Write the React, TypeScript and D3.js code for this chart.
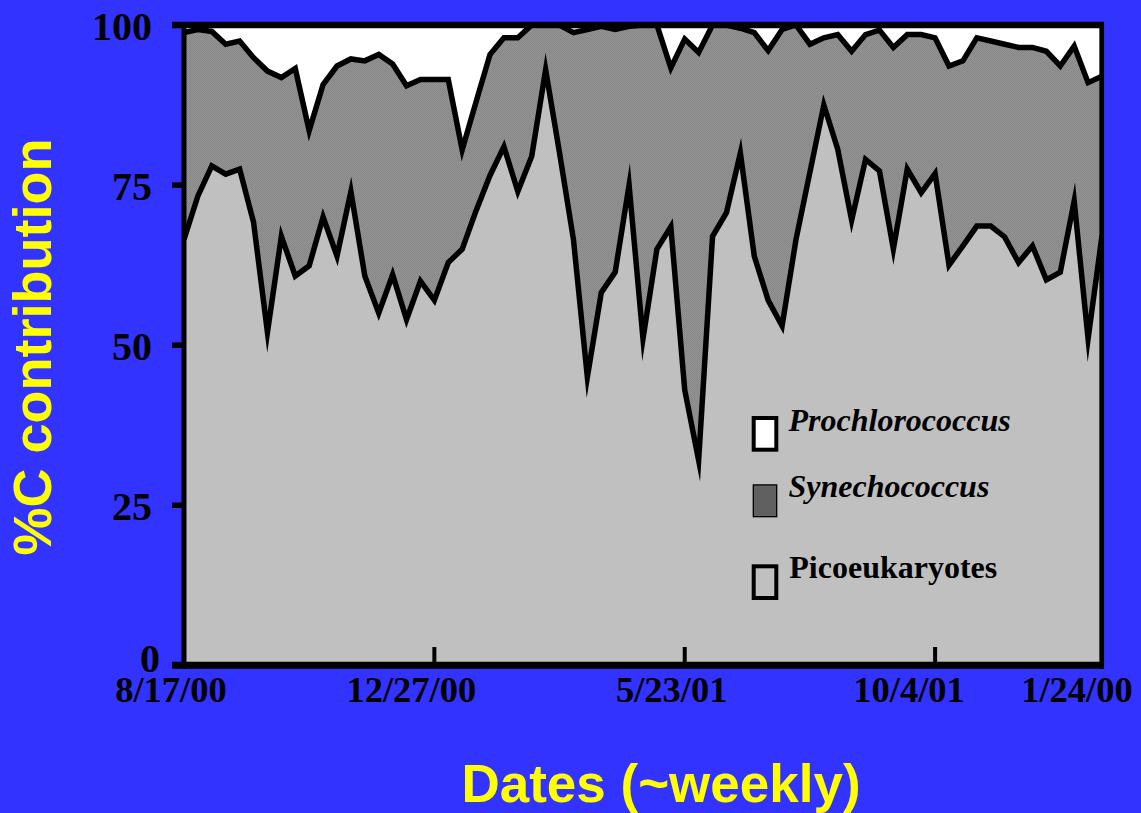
import React from 'react';
import * as d3 from 'd3';

// ~weekly samples, 8/17/00 onward
const dateLabels = ['8/17/00', '12/27/00', '5/23/01', '10/4/01', '1/24/00'];
const dateLabelIndex = [0, 18, 36, 54, 66];
const yTickValues = [0, 25, 50, 75, 100];
const seriesNames = ['Prochlorococcus', 'Synechococcus', 'Picoeukaryotes'];

const picoeukaryotes = [
  66.5, 73.3, 78.0, 76.7, 77.5, 69.2, 52.0, 67.0, 60.8, 62.4,
  70.0, 63.9, 74.0, 60.8, 55.0, 61.0, 54.0, 60.0, 57.0, 62.9,
  65.0, 71.0, 76.5, 81.0, 74.0, 79.5, 93.0, 80.0, 66.5, 45.0,
  58.2, 61.4, 75.0, 51.0, 65.0, 68.5, 43.0, 32.0, 67.0, 70.7,
  80.0, 63.9, 57.0, 53.0, 66.5, 77.0, 87.5, 80.6, 69.5, 79.0,
  77.2, 65.0, 77.5, 73.8, 76.8, 62.5, 65.5, 68.6, 68.6, 66.9,
  62.9, 65.5, 60.2, 61.4, 72.5, 51.0, 67.1,
];
const synechococcus = [
  32.3, 26.0, 21.0, 20.3, 20.0, 25.7, 40.8, 24.8, 32.4, 21.1,
  20.7, 29.7, 20.7, 33.6, 40.4, 32.9, 36.5, 31.5, 34.5, 28.6,
  15.5, 17.0, 18.9, 17.0, 24.0, 20.5, 7.0, 20.0, 32.3, 54.3,
  41.6, 37.9, 24.8, 49.0, 35.0, 24.8, 54.8, 63.7, 33.0, 29.3,
  19.5, 34.9, 39.0, 46.3, 33.5, 20.0, 10.5, 17.9, 26.4, 19.5,
  22.0, 31.5, 21.0, 24.7, 21.2, 31.1, 28.9, 29.4, 28.9, 30.1,
  33.6, 31.0, 35.7, 32.2, 24.2, 40.0, 24.9,
];
const prochlorococcus = [
  1.2, 0.7, 1.0, 3.0, 2.5, 5.1, 7.2, 8.2, 6.8, 16.5,
  9.3, 6.4, 5.3, 5.6, 4.6, 6.1, 9.5, 8.5, 8.5, 8.5,
  19.5, 12.0, 4.6, 2.0, 2.0, 0, 0, 0, 1.2, 0.7,
  0.2, 0.7, 0.2, 0, 0, 6.7, 2.2, 4.3, 0, 0,
  0.5, 1.2, 4.0, 0.7, 0, 3.0, 2.0, 1.5, 4.1, 1.5,
  0.8, 3.5, 1.5, 1.5, 2.0, 6.4, 5.6, 2.0, 2.5, 3.0,
  3.5, 3.5, 4.1, 6.4, 3.3, 9.0, 8.0,
];

const BLUE = '#3333FF';
const YELLOW = '#FFFF00';
const PICO = '#C0C0C0';
const SYN_LEGEND = '#606060';
const SERIF = '"Liberation Serif", "Times New Roman", serif';
const SANS = '"Liberation Sans", Arial, sans-serif';

export default function App() {
  const W = 1141;
  const H = 813;
  const left = 184;
  const right = 1102;
  const top = 25;
  const bottom = 665.3;

  const x = d3.scaleLinear().domain([0, picoeukaryotes.length - 1]).range([left, right]);
  const y = d3.scaleLinear().domain([0, 100]).range([bottom, top]);

  const rows = picoeukaryotes.map((p, i) => ({
    i,
    pico: p,
    syn: synechococcus[i],
    pro: prochlorococcus[i],
  }));
  const stacked = d3.stack<any>().keys(['pico', 'syn', 'pro'])(rows);

  const area = d3
    .area<any>()
    .x((d) => x(d.data.i))
    .y0((d) => y(d[0]))
    .y1((d) => y(d[1]));
  const line = d3
    .line<any>()
    .x((d) => x(d.data.i))
    .y((d) => y(d[1]));

  const areaFill = [PICO, 'url(#synDither)', '#FFFFFF'];

  const labelShift = [-13, -23, -13, -26, -25];

  return (
    <svg
      width={W}
      height={H}
      style={{ position: 'absolute', left: 0, top: 0, display: 'block' }}
    >
      <defs>
        <clipPath id="plotClip">
          <rect x={left} y={top} width={right - left} height={bottom - top} />
        </clipPath>
        <pattern id="synDither" width="2" height="2" patternUnits="userSpaceOnUse">
          <rect width="2" height="2" fill="#949494" />
          <rect width="1" height="1" fill="#878787" />
          <rect x="1" y="1" width="1" height="1" fill="#878787" />
        </pattern>
      </defs>
      <rect width={W} height={H} fill={BLUE} />

      {/* stacked areas */}
      <g clipPath="url(#plotClip)">
        {stacked.map((layer, k) => (
          <path key={layer.key} d={area(layer as any) || ''} fill={areaFill[k]} stroke="none" />
        ))}
        {stacked.slice(0, 2).map((layer) => (
          <path
            key={'l' + layer.key}
            d={line(layer as any) || ''}
            fill="none"
            stroke="#000"
            strokeWidth={5.5}
            strokeLinejoin="miter"
            strokeMiterlimit={10}
          />
        ))}
      </g>

      {/* frame */}
      <line x1={172} x2={1104} y1={y(100)} y2={y(100)} stroke="#000" strokeWidth={6.5} />
      <line x1={172} x2={1104} y1={y(0)} y2={y(0)} stroke="#000" strokeWidth={7} />
      <line x1={left} x2={left} y1={22} y2={669} stroke="#000" strokeWidth={5} />
      <line x1={1101.7} x2={1101.7} y1={22} y2={669} stroke="#000" strokeWidth={4.7} />

      {/* y ticks */}
      {yTickValues.map((v) => (
        <g key={'yt' + v}>
          {v > 0 && v < 100 && (
            <line x1={172} x2={left} y1={y(v)} y2={y(v)} stroke="#000" strokeWidth={5.5} />
          )}
          <text
            x={v === 0 ? 160 : 152}
            y={v === 0 ? y(v) + 7 : y(v) + 14.5}
            textAnchor="end"
            fontFamily={SERIF}
            fontWeight="bold"
            fontSize={40}
            fill="#000"
          >
            {v}
          </text>
        </g>
      ))}

      {/* x ticks */}
      {dateLabelIndex.map((idx, k) => (
        <g key={'xt' + k}>
          {k > 0 && k < dateLabelIndex.length - 1 && (
            <line x1={x(idx)} x2={x(idx)} y1={y(0)} y2={647} stroke="#000" strokeWidth={4} />
          )}
          <text
            x={x(idx) + labelShift[k]}
            y={702}
            textAnchor="middle"
            fontFamily={SERIF}
            fontWeight="bold"
            fontSize={36.5}
            fill="#000"
          >
            {dateLabels[k]}
          </text>
        </g>
      ))}

      {/* axis titles */}
      <text
        transform="translate(51,347) rotate(-90)"
        textAnchor="middle"
        fontFamily={SANS}
        fontWeight="bold"
        fontSize={54}
        fill={YELLOW}
      >
        %C contribution
      </text>
      <text
        x={661}
        y={802}
        textAnchor="middle"
        fontFamily={SANS}
        fontWeight="bold"
        fontSize={53}
        fill={YELLOW}
      >
        Dates (~weekly)
      </text>

      {/* legend */}
      <rect x={753.7} y={418} width={22.6} height={31.7} fill="#FFFFFF" stroke="#000" strokeWidth={4} />
      <rect x={753.3} y={484.9} width={23.4} height={31.8} fill={SYN_LEGEND} stroke="#000" strokeWidth={1.3} />
      <rect x={753.7} y={566.3} width={22.6} height={31.7} fill={PICO} stroke="#000" strokeWidth={4} />
      <text x={788.5} y={431} fontFamily={SERIF} fontWeight="bold" fontStyle="italic" fontSize={32} fill="#000">
        {seriesNames[0]}
      </text>
      <text x={788.5} y={497.3} fontFamily={SERIF} fontWeight="bold" fontStyle="italic" fontSize={32} fill="#000">
        {seriesNames[1]}
      </text>
      <text x={789.3} y={578.3} fontFamily={SERIF} fontWeight="bold" fontSize={32} fill="#000">
        {seriesNames[2]}
      </text>
    </svg>
  );
}
